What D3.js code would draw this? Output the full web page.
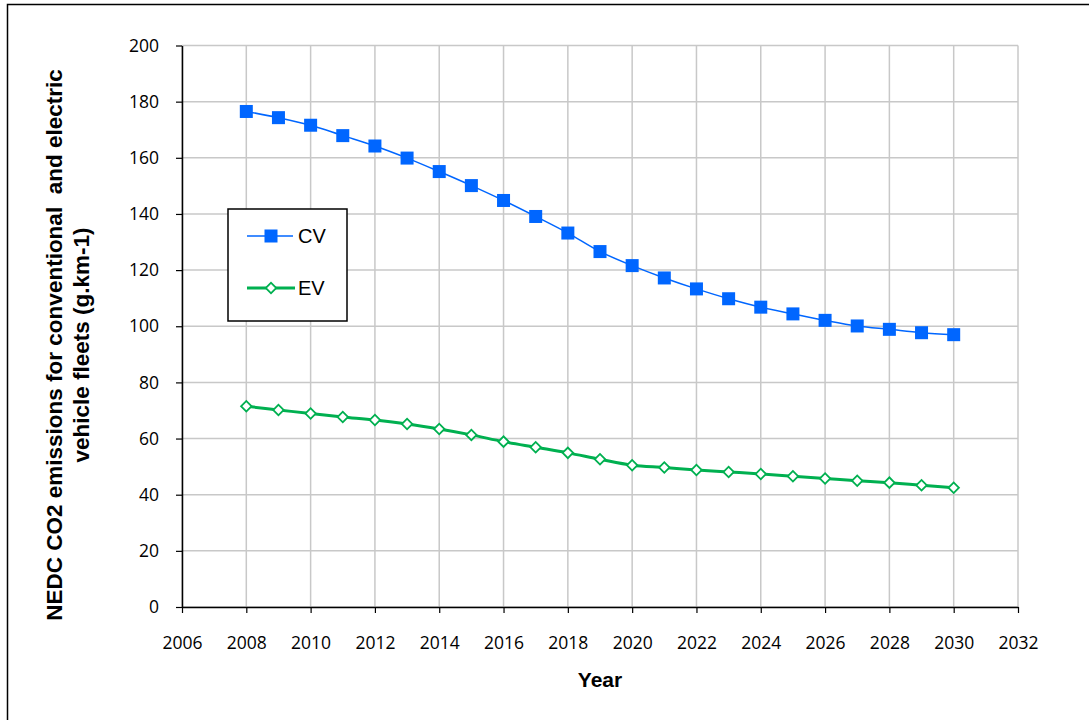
<!DOCTYPE html>
<html>
<head>
<meta charset="utf-8">
<script src="https://cdn.jsdelivr.net/npm/d3@7"></script>
<style>
  body { margin: 0; background: #fff; }
  .tick text { font-family: "Open Sans", "Liberation Sans", sans-serif; font-size: 17.5px; fill: #000; }
</style>
</head>
<body>
<div id="chart-area"></div>
<script>
var years = [2008, 2009, 2010, 2011, 2012, 2013, 2014, 2015, 2016, 2017, 2018, 2019,
             2020, 2021, 2022, 2023, 2024, 2025, 2026, 2027, 2028, 2029, 2030];
var cvValues = [176.5, 174.3, 171.6, 167.9, 164.2, 159.9, 155.1, 150.1, 144.8, 139.1, 133.2, 126.6,
                121.6, 117.2, 113.3, 109.8, 106.8, 104.4, 102.1, 100.1, 98.9, 97.7, 97.0];
var evValues = [71.5, 70.2, 68.9, 67.7, 66.6, 65.2, 63.4, 61.3, 58.9, 56.9, 54.9, 52.6,
                50.5, 49.7, 48.8, 48.1, 47.4, 46.6, 45.8, 45.0, 44.3, 43.4, 42.5];
var xTicks = [2006, 2008, 2010, 2012, 2014, 2016, 2018, 2020, 2022, 2024, 2026, 2028, 2030, 2032];
var yTicks = [0, 20, 40, 60, 80, 100, 120, 140, 160, 180, 200];

var W = 1089, H = 720;
var margin = { left: 182, right: 71, top: 45.5, bottom: 113 };
var width = W - margin.left - margin.right,
    height = H - margin.top - margin.bottom;

var svg = d3.select("#chart-area")
    .append("svg")
    .attr("width", W)
    .attr("height", H);

// outer frame (runs off the right and bottom edges)
svg.append("rect")
    .attr("x", 7.5).attr("y", 4.5)
    .attr("width", W + 20).attr("height", H + 20)
    .attr("fill", "none").attr("stroke", "#000").attr("stroke-width", 1.5);

var g = svg.append("g")
    .attr("transform", "translate(" + margin.left + "," + margin.top + ")");

// Scales
var x = d3.scaleLinear().domain([2006, 2032]).range([0, width]);
var y = d3.scaleLinear().domain([0, 200]).range([height, 0]);

// Gridlines
g.selectAll(".vgrid").data(xTicks).enter().append("line")
    .attr("x1", function(d) { return x(d); }).attr("x2", function(d) { return x(d); })
    .attr("y1", 0).attr("y2", height)
    .attr("stroke", "#c8c8c8").attr("stroke-width", 1.5);
g.selectAll(".hgrid").data(yTicks).enter().append("line")
    .attr("x1", 0).attr("x2", width)
    .attr("y1", function(d) { return y(d); }).attr("y2", function(d) { return y(d); })
    .attr("stroke", "#c8c8c8").attr("stroke-width", 1.5);

// Axes
var xAxis = g.append("g")
    .attr("transform", "translate(0," + height + ")")
    .call(d3.axisBottom(x).tickValues(xTicks).tickFormat(d3.format("d")).tickSize(6).tickSizeOuter(0).tickPadding(24));
var yAxis = g.append("g")
    .call(d3.axisLeft(y).tickValues(yTicks).tickSize(6).tickSizeOuter(0).tickPadding(17));
[xAxis, yAxis].forEach(function(a) {
    a.select(".domain").attr("stroke", "#000").attr("stroke-width", 1.5);
    a.selectAll(".tick line").attr("stroke", "#000").attr("stroke-width", 1.2);
});

// Labels
svg.append("text")
    .attr("x", margin.left + x(2019)).attr("y", 687)
    .attr("text-anchor", "middle")
    .attr("font-family", "Liberation Sans, Arial, sans-serif")
    .attr("font-weight", "bold").attr("font-size", "21px")
    .text("Year");

var yTitle = svg.append("text")
    .attr("transform", "translate(0,345) rotate(-90)")
    .attr("text-anchor", "middle")
    .attr("font-family", "Liberation Sans, Arial, sans-serif")
    .attr("font-weight", "bold").attr("font-size", "22.5px");
yTitle.append("tspan").attr("x", 0).attr("y", 62).attr("xml:space", "preserve")
    .text("NEDC CO2 emissions for conventional  and electric");
yTitle.append("tspan").attr("x", 0).attr("y", 89)
    .text("vehicle fleets (g.km-1)");

// Lines
var cvData = years.map(function(d, i) { return { year: d, value: cvValues[i] }; });
var evData = years.map(function(d, i) { return { year: d, value: evValues[i] }; });

var line = d3.line()
    .x(function(d) { return x(d.year); })
    .y(function(d) { return y(d.value); })
    .curve(d3.curveCatmullRom);

g.append("path").datum(cvData)
    .attr("d", line).attr("fill", "none")
    .attr("stroke", "#0066ff").attr("stroke-width", 1.5);
g.append("path").datum(evData)
    .attr("d", line).attr("fill", "none")
    .attr("stroke", "#00b050").attr("stroke-width", 3);

g.selectAll(".cv").data(cvData).enter().append("rect")
    .attr("x", function(d) { return x(d.year) - 6.5; })
    .attr("y", function(d) { return y(d.value) - 6.5; })
    .attr("width", 13).attr("height", 13)
    .attr("fill", "#0066ff");

var diamond = d3.symbol().type(d3.symbolSquare).size(55);
g.selectAll(".ev").data(evData).enter().append("path")
    .attr("d", diamond)
    .attr("transform", function(d) { return "translate(" + x(d.year) + "," + y(d.value) + ") rotate(45)"; })
    .attr("fill", "#fff").attr("stroke", "#00b050").attr("stroke-width", 1.8);

// Legend
var lg = svg.append("g");
lg.append("rect")
    .attr("x", 228).attr("y", 209).attr("width", 119).attr("height", 112)
    .attr("fill", "#fff").attr("stroke", "#000").attr("stroke-width", 1.5);
lg.append("line").attr("x1", 247).attr("x2", 293).attr("y1", 236).attr("y2", 236)
    .attr("stroke", "#0066ff").attr("stroke-width", 1.5);
lg.append("rect").attr("x", 264.5).attr("y", 229.5).attr("width", 13).attr("height", 13)
    .attr("fill", "#0066ff");
lg.append("line").attr("x1", 247).attr("x2", 295).attr("y1", 288).attr("y2", 288)
    .attr("stroke", "#00b050").attr("stroke-width", 3);
lg.append("path").attr("d", diamond)
    .attr("transform", "translate(271,288) rotate(45)")
    .attr("fill", "#fff").attr("stroke", "#00b050").attr("stroke-width", 1.8);
lg.append("text").attr("x", 298).attr("y", 243)
    .attr("font-family", "Liberation Sans, Arial, sans-serif").attr("font-size", "20px")
    .text("CV");
lg.append("text").attr("x", 298).attr("y", 295)
    .attr("font-family", "Liberation Sans, Arial, sans-serif").attr("font-size", "20px")
    .text("EV");
</script>
</body>
</html>
